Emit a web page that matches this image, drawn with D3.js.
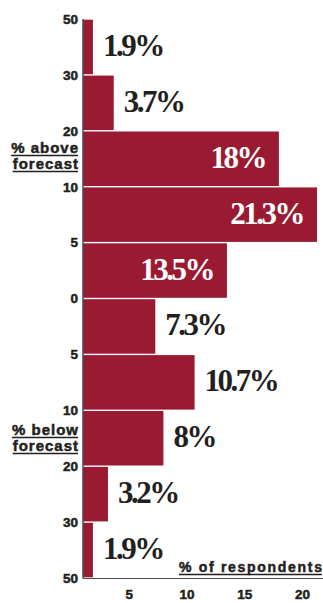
<!DOCTYPE html>
<html>
<head>
<meta charset="utf-8">
<script src="https://cdn.jsdelivr.net/npm/d3@7"></script>
<style>
  html, body { margin: 0; padding: 0; background: #ffffff; }
  svg { display: block; }
</style>
</head>
<body>
<svg id="chart" width="323" height="603"></svg>
<script>
// Forecast deviation bands, top (most above forecast) to bottom (most below)
const bands = ["50-30 above", "30-20 above", "20-10 above", "10-5 above", "5-0 above",
               "0-5 below", "5-10 below", "10-20 below", "20-30 below", "30-50 below"];
// Share of respondents in each band (%)
const respondents = [1.9, 3.7, 18, 21.3, 13.5, 7.3, 10.7, 8, 3.2, 1.9];
// Labels at the band boundaries, top to bottom
const boundaryLabels = ["50", "30", "20", "10", "5", "0", "5", "10", "20", "30", "50"];
// Ticks along the respondents axis
const xTicks = [5, 10, 15, 20];

const W = 323, H = 603;
const axisX = 83;
const plotTop = 19, plotBottom = 578;
const barColor = "#9a1a31";
const ink = "#231f20";
const sans = "'Liberation Sans', Arial, sans-serif";

const svg = d3.select("#chart");

const y = d3.scaleBand().domain(bands).range([plotTop, plotBottom]).padding(0);
const x = d3.scaleLinear().domain([0, 20]).range([71, 302]);

// Bars, separated by a thin gap
svg.append("g").selectAll("rect")
  .data(respondents)
  .join("rect")
  .attr("x", axisX)
  .attr("y", (d, i) => y(bands[i]) + 0.7)
  .attr("width", d => x(d) - axisX)
  .attr("height", y.bandwidth() - 1.4)
  .attr("fill", barColor);

// Value labels: white inside the long bars, dark beside the short ones
svg.append("g").selectAll("text")
  .data(respondents)
  .join("text")
  .attr("x", d => d >= 12 ? x(d) - 14 : x(d) + 10)
  .attr("y", (d, i) => y(bands[i]) + y.bandwidth() / 2 + 9)
  .attr("text-anchor", d => d >= 12 ? "end" : "start")
  .attr("fill", d => d >= 12 ? "#ffffff" : ink)
  .style("font-family", "'Liberation Serif', 'Times New Roman', serif")
  .style("font-weight", "bold")
  .style("font-size", "31px")
  .style("letter-spacing", "-2.5px")
  .text(d => d + "%");

// Vertical axis line and bottom baseline
svg.append("line")
  .attr("x1", axisX).attr("x2", axisX)
  .attr("y1", plotTop).attr("y2", plotBottom + 0.5)
  .attr("stroke", "#4a4a4a").attr("stroke-width", 1.5);
svg.append("line")
  .attr("x1", axisX).attr("x2", W)
  .attr("y1", plotBottom + 0.5).attr("y2", plotBottom + 0.5)
  .attr("stroke", "#4a4a4a").attr("stroke-width", 1.2);

// Boundary labels on the left
const boundaries = bands.map(b => y(b)).concat([plotBottom]);
svg.append("g").selectAll("text")
  .data(boundaryLabels)
  .join("text")
  .attr("x", 78)
  .attr("y", (d, i) => boundaries[i])
  .attr("dy", "0.36em")
  .attr("text-anchor", "end")
  .attr("fill", ink)
  .attr("stroke", ink)
  .attr("stroke-width", 0.5)
  .style("font-family", sans)
  .style("font-weight", "bold")
  .style("font-size", "13.5px")
  .text(d => d);

// Horizontal axis tick labels
const xAxis = d3.axisBottom(x).tickValues(xTicks).tickSize(0).tickPadding(0);
const gx = svg.append("g")
  .attr("transform", `translate(0,${plotBottom + 11})`)
  .call(xAxis);
gx.select(".domain").remove();
gx.selectAll("text")
  .attr("fill", ink)
  .attr("stroke", ink)
  .attr("stroke-width", 0.5)
  .attr("dy", "0.71em")
  .style("font-family", sans)
  .style("font-weight", "bold")
  .style("font-size", "13.5px");

// Underlined captions
function caption(lines, xRight, baselines, size, spacing) {
  lines.forEach((t, i) => {
    const txt = svg.append("text")
      .attr("x", xRight + spacing)
      .attr("y", baselines[i])
      .attr("text-anchor", "end")
      .attr("fill", ink)
      .attr("stroke", ink)
      .attr("stroke-width", 0.5)
      .style("font-family", sans)
      .style("font-weight", "bold")
      .style("font-size", size + "px")
      .style("letter-spacing", spacing + "px")
      .text(t);
    const bb = txt.node().getBBox();
    svg.append("line")
      .attr("x1", bb.x).attr("x2", xRight)
      .attr("y1", baselines[i] + 2.5).attr("y2", baselines[i] + 2.5)
      .attr("stroke", ink).attr("stroke-width", 1.5);
  });
}

caption(["% above", "forecast"], 78, [153, 169], 15, 1);
caption(["% below", "forecast"], 78, [435, 451], 15, 1);
caption(["% of respondents"], 322, [572], 14, 1.7);
</script>
</body>
</html>
